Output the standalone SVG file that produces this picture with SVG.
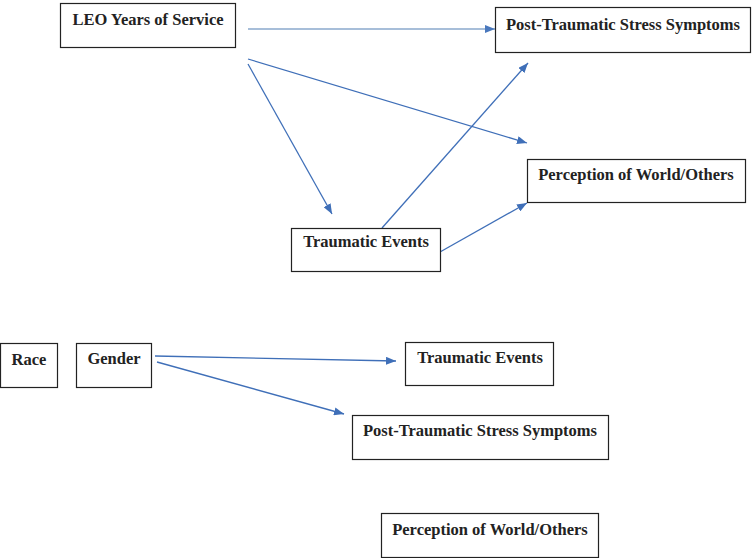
<svg xmlns="http://www.w3.org/2000/svg" width="752" height="558" viewBox="0 0 752 558">
<defs>
<marker id="ah" markerWidth="10" markerHeight="8" refX="10" refY="4" orient="auto" markerUnits="userSpaceOnUse">
<path d="M0,0 L10,4 L0,8 Z" fill="#3f6fb8"/>
</marker>
<marker id="ahl" markerWidth="10" markerHeight="8" refX="10" refY="4" orient="auto" markerUnits="userSpaceOnUse">
<path d="M0,0 L10,4 L0,8 Z" fill="#4a78bd"/>
</marker>
</defs>
<style>
.box{fill:#fff;stroke:#222;stroke-width:1.2}
.t{font-family:"Liberation Serif","Times New Roman",serif;font-weight:bold;font-size:16.5px;fill:#222}
.c{fill:none;stroke:#3f6fb8;stroke-width:1.3}
</style>
<rect width="752" height="558" fill="#fff"/>
<g id="connectors">
<line class="c" x1="248" y1="29" x2="495" y2="29" style="stroke:#8aa8cc" marker-end="url(#ahl)"/>
<line class="c" x1="248" y1="59" x2="527" y2="143" marker-end="url(#ah)"/>
<line class="c" x1="248" y1="64" x2="332" y2="214" marker-end="url(#ah)"/>
<line class="c" x1="382" y1="228" x2="528" y2="63" marker-end="url(#ah)"/>
<line class="c" x1="440" y1="252" x2="527" y2="203" marker-end="url(#ah)"/>
<line class="c" x1="155" y1="356" x2="396" y2="361" marker-end="url(#ah)"/>
<line class="c" x1="157" y1="362" x2="344" y2="414" marker-end="url(#ah)"/>
</g>
<g id="leo"><rect class="box" x="60.5" y="3.5" width="175" height="44"/><text class="t" x="148" y="25" text-anchor="middle">LEO Years of Service</text></g>
<g id="ptss1"><rect class="box" x="495.5" y="7.5" width="255" height="45"/><text class="t" x="623" y="30" text-anchor="middle">Post-Traumatic Stress Symptoms</text></g>
<g id="pwo1"><rect class="box" x="527.5" y="159.5" width="218" height="43"/><text class="t" x="636" y="180" text-anchor="middle">Perception of World/Others</text></g>
<g id="te1"><rect class="box" x="291.5" y="228.5" width="149" height="43"/><text class="t" x="366" y="247" text-anchor="middle">Traumatic Events</text></g>
<g id="race"><rect class="box" x="0.5" y="343.5" width="57" height="44"/><text class="t" x="29" y="365" text-anchor="middle">Race</text></g>
<g id="gender"><rect class="box" x="76.5" y="343.5" width="75" height="44"/><text class="t" x="114" y="364" text-anchor="middle">Gender</text></g>
<g id="te2"><rect class="box" x="405.5" y="342.5" width="148" height="43"/><text class="t" x="480" y="363" text-anchor="middle">Traumatic Events</text></g>
<g id="ptss2"><rect class="box" x="352.5" y="415.5" width="256" height="44"/><text class="t" x="480" y="436" text-anchor="middle">Post-Traumatic Stress Symptoms</text></g>
<g id="pwo2"><rect class="box" x="381.5" y="513.5" width="217" height="44"/><text class="t" x="490" y="535" text-anchor="middle">Perception of World/Others</text></g>
</svg>
